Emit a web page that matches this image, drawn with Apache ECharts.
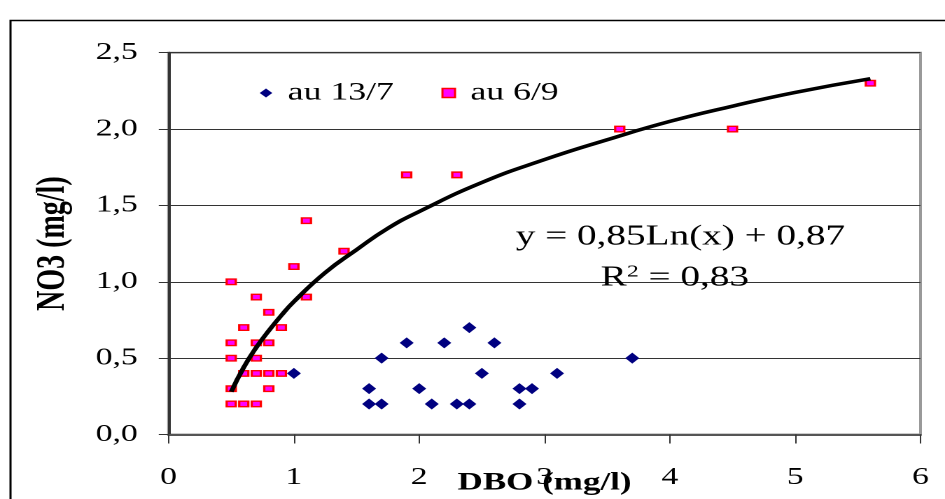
<!DOCTYPE html>
<html>
<head>
<meta charset="utf-8">
<script src="https://cdn.jsdelivr.net/npm/echarts@6/dist/echarts.min.js"></script>
<style>
html,body{margin:0;padding:0;background:#fff;overflow:hidden;width:945px;height:499px;}
#c{width:675px;height:499px;transform:scaleX(1.4);transform-origin:0 0;}
</style>
</head>
<body>
<div id="c"></div>
<script>
// Data
const xTicks = [0, 1, 2, 3, 4, 5, 6];
const yTicks = [0, 0.5, 1, 1.5, 2, 2.5];
const seriesNames = ['au 13/7', 'au 6/9'];
const points13_7 = [
  [1.0,0.4],[1.6,0.3],[1.6,0.2],[1.7,0.5],[1.7,0.2],[1.9,0.6],[2.0,0.3],[2.1,0.2],
  [2.2,0.6],[2.3,0.2],[2.4,0.7],[2.4,0.2],[2.5,0.4],[2.6,0.6],[2.8,0.3],[2.8,0.2],
  [2.9,0.3],[3.1,0.4],[3.7,0.5]
];
const points6_9 = [
  [0.5,1.0],[0.5,0.6],[0.5,0.5],[0.5,0.3],[0.5,0.2],[0.6,0.7],[0.6,0.4],[0.6,0.2],
  [0.7,0.9],[0.7,0.6],[0.7,0.5],[0.7,0.4],[0.7,0.2],[0.8,0.8],[0.8,0.6],[0.8,0.4],
  [0.8,0.3],[0.9,0.7],[0.9,0.4],[1.0,1.1],[1.1,1.4],[1.1,0.9],[1.4,1.2],[1.9,1.7],
  [2.3,1.7],[3.6,2.0],[4.5,2.0],[5.6,2.3]
];
// trend curve
const trendPoints = [
  [0.5,0.28],[0.6,0.44],[0.7,0.57],[0.8,0.68],[0.9,0.78],[1.0,0.87],[1.25,1.06],
  [1.5,1.21],[1.75,1.35],[2.0,1.46],[2.5,1.65],[3.0,1.80],[3.5,1.93],[4.0,2.05],
  [4.5,2.15],[5.0,2.24],[5.6,2.33]
];
const eqLine1 = 'y = 0,85Ln(x) + 0,87';
const eqLine2 = '{r|R}{sup|2}{r| = 0,83}';

const serif = '"Liberation Serif", serif';
const chart = echarts.init(document.getElementById('c'), null, {renderer: 'canvas', devicePixelRatio: 2});
chart.setOption({
  animation: false,
  backgroundColor: '#fff',
  textStyle: {fontFamily: serif},
  grid: {left: 120.4, right: 17.5, top: 52.7, bottom: 64.5, outerBoundsMode: 'none', containLabel: false,
    show: true, borderColor: '#999', borderWidth: 2, backgroundColor: 'transparent'},
  legend: {
    left: 180.5, top: 75, itemWidth: 9, itemHeight: 9, itemGap: 34, selectedMode: false,
    textStyle: {fontFamily: serif, fontSize: 25.5, color: '#000', padding: [0, 0, 0, 6]},
    data: [
      {name: seriesNames[0], icon: 'diamond', itemStyle: {color: '#000080', borderWidth: 0}},
      {name: seriesNames[1], icon: 'rect', itemStyle: {color: '#FF00FF', borderColor: '#FF0000', borderWidth: 1.5}}
    ]
  },
  xAxis: {
    type: 'value', min: xTicks[0], max: xTicks[xTicks.length - 1], interval: 1,
    name: 'DBO (mg/l)', nameLocation: 'middle', nameGap: 36, nameMoveOverlap: false,
    nameTextStyle: {fontFamily: serif, fontSize: 25, fontWeight: 'bold', color: '#000'},
    axisLine: {show: true, lineStyle: {color: '#555', width: 2}},
    axisTick: {show: true, inside: false, length: 9, lineStyle: {color: '#333', width: 1}},
    axisLabel: {fontFamily: serif, fontSize: 24, color: '#000', margin: 31},
    splitLine: {show: false}
  },
  yAxis: {
    type: 'value', min: yTicks[0], max: yTicks[yTicks.length - 1], interval: 0.5,
    name: 'NO3 (mg/l)', nameLocation: 'middle', nameGap: 68, nameRotate: 90, nameMoveOverlap: false,
    nameTextStyle: {fontFamily: serif, fontSize: 28, fontWeight: 'bold', color: '#000'},
    axisLine: {show: true, lineStyle: {color: '#333', width: 2}},
    axisTick: {show: true, inside: false, length: 7, lineStyle: {color: '#333', width: 1}},
    axisLabel: {fontFamily: serif, fontSize: 24, color: '#000', margin: 22,
      formatter: v => v.toFixed(1).replace('.', ',')},
    splitLine: {show: true, lineStyle: {color: '#333', width: 1}}
  },
  series: [
    {name: seriesNames[0], type: 'scatter', data: points13_7, symbol: 'diamond', symbolSize: [10, 11],
      itemStyle: {color: '#000080', opacity: 1}, z: 3},
    {name: seriesNames[1], type: 'scatter', data: points6_9, symbol: 'rect', symbolSize: [6.5, 5.5],
      itemStyle: {color: '#FF00FF', borderColor: '#FF0000', borderWidth: 1.5, opacity: 1}, z: 3},
    {name: 'trend', type: 'line', data: trendPoints, smooth: true, showSymbol: false, symbol: 'none',
      lineStyle: {color: '#000', width: 3.5}, z: 4, silent: true}
  ],
  graphic: [
    {type: 'rect', left: 5, top: 18, shape: {width: 668.6, height: 520},
      style: {fill: 'none', stroke: '#000', lineWidth: 1.5}, silent: true, z: 0},
    {type: 'text', x: 486, y: 237, style: {text: eqLine1, fontFamily: serif, fontSize: 28, fill: '#000', align: 'center', verticalAlign: 'middle'}, z: 10},
    {type: 'text', x: 482, y: 278, style: {text: eqLine2, fontFamily: serif, fontSize: 28, fill: '#000', align: 'center', verticalAlign: 'middle',
      rich: {r: {fontFamily: serif, fontSize: 28, fill: '#000'}, sup: {fontFamily: serif, fontSize: 17, fill: '#000', verticalAlign: 'top', padding: [0, 0, 12, 0]}}}, z: 10}
  ]
});
</script>
</body>
</html>
